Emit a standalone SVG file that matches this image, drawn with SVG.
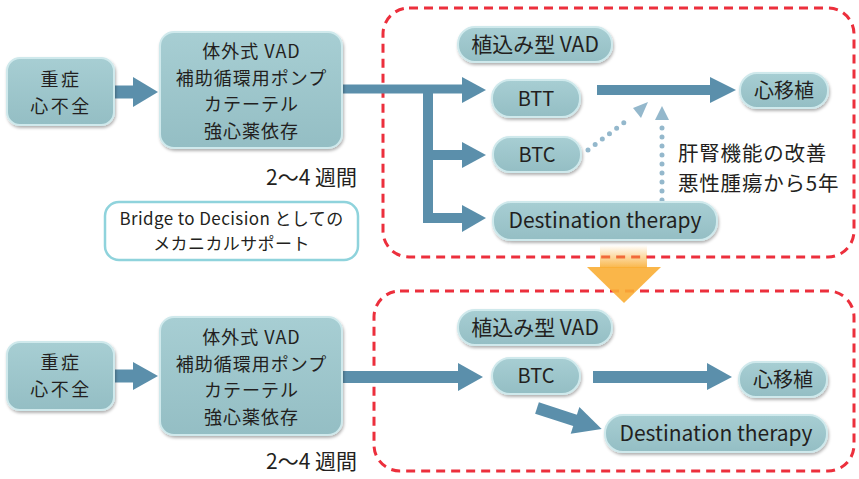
<svg xmlns="http://www.w3.org/2000/svg" width="859" height="479" viewBox="0 0 859 479">
<style>
text{font-family:"Noto Sans CJK JP","Noto Sans",sans-serif;fill:#231f20;}
.node rect{fill:url(#nf);stroke:#cfe9ec;stroke-width:2;filter:url(#sh);}
.t20{font-size:20px;text-anchor:middle;}
.m18{font-size:18px;letter-spacing:1px;text-anchor:middle;}
.sv{font-size:18px;letter-spacing:2.5px;text-anchor:middle;}
.shaft{stroke:#5b8fab;fill:none;}
.head{fill:#5b8fab;}
.dot{stroke:#94b8cc;stroke-width:5;stroke-linecap:round;stroke-dasharray:0 9;fill:none;}
.dothead{fill:#94b8cc;}
.zone{fill:none;stroke:#ec2f3c;stroke-width:3;stroke-dasharray:9 6;}
</style>
<defs>
<linearGradient id="nf" x1="0" y1="0" x2="0" y2="1">
<stop offset="0" stop-color="#a7ced3"/>
<stop offset="1" stop-color="#94bec4"/>
</linearGradient>
<linearGradient id="og" x1="0" y1="0" x2="0" y2="1">
<stop offset="0" stop-color="#f9ae35" stop-opacity="0"/>
<stop offset="1" stop-color="#f9ae35" stop-opacity="0.9"/>
</linearGradient>
<filter id="sh" x="-10%" y="-10%" width="130%" height="140%">
<feDropShadow dx="1" dy="2" stdDeviation="1.5" flood-color="#000" flood-opacity="0.3"/>
</filter>
</defs>
<rect width="859" height="479" fill="#fff"/>

<!-- zones -->
<rect class="zone" x="383" y="8" width="471" height="249" rx="26"/>
<rect class="zone" x="374" y="291" width="480" height="180" rx="26"/>

<!-- connectors -->
<g id="connectors">
<line class="shaft" x1="113" y1="92" x2="135" y2="92" stroke-width="13"/>
<polygon class="head" points="133,77 158,92 133,107"/>
<line class="shaft" x1="342" y1="89" x2="464" y2="89" stroke-width="9"/>
<polygon class="head" points="462,77 486,90 462,103"/>
<line class="shaft" x1="428" y1="85" x2="428" y2="223" stroke-width="10"/>
<line class="shaft" x1="428" y1="155" x2="464" y2="155" stroke-width="10"/>
<polygon class="head" points="462,142 486,155 462,168"/>
<line class="shaft" x1="423" y1="218" x2="464" y2="218" stroke-width="10"/>
<polygon class="head" points="462,205 486,218 462,232"/>
<line class="shaft" x1="597" y1="90" x2="712" y2="90" stroke-width="10"/>
<polygon class="head" points="710,77 736,90 710,103"/>
<line class="dot" x1="588" y1="150" x2="630" y2="118"/>
<polygon class="dothead" points="648,102 641,118 633,108"/>
<line class="dot" x1="662" y1="200" x2="662" y2="124"/>
<polygon class="dothead" points="662,106 655,120 669,120"/>
<line class="shaft" x1="113" y1="376" x2="135" y2="376" stroke-width="13"/>
<polygon class="head" points="133,362 158,376 133,390"/>
<line class="shaft" x1="342" y1="377" x2="460" y2="377" stroke-width="12"/>
<polygon class="head" points="458,363 483,377 458,391"/>
<line class="shaft" x1="593" y1="377" x2="709" y2="377" stroke-width="12"/>
<polygon class="head" points="707,363 732,377 707,390"/>
<g transform="translate(537,408) rotate(18)">
<line class="shaft" x1="0" y1="0" x2="44" y2="0" stroke-width="12"/>
<polygon class="head" points="40,-14 68,0 40,14"/>
</g>
</g>

<!-- orange transition arrow -->
<g id="transition">
<rect x="600" y="245" width="47" height="23" fill="url(#og)"/>
<polygon points="587,267 661,267 624,303" fill="#f9ae35" fill-opacity="0.9"/>
</g>

<!-- top nodes -->
<g id="n-severe-top" class="node">
<rect x="7" y="58" width="107" height="67" rx="13"/>
<text class="sv"><tspan x="61" y="86">重症</tspan><tspan x="61" y="112.5">心不全</tspan></text>
</g>
<g id="n-ext-top" class="node">
<rect x="160" y="32" width="182" height="116" rx="14"/>
<text class="m18"><tspan x="251.5" y="58">体外式 VAD</tspan><tspan x="251.5" y="84.5">補助循環用ポンプ</tspan><tspan x="251.5" y="111">カテーテル</tspan><tspan x="251.5" y="137.5">強心薬依存</tspan></text>
</g>
<g id="n-impl-top" class="node">
<rect x="458" y="27" width="154" height="35" rx="17"/>
<text class="t20" x="535" y="52" style="font-size:21px">植込み型 VAD</text>
</g>
<g id="n-btt" class="node">
<rect x="492" y="80" width="88" height="37" rx="18"/>
<text class="t20" x="536" y="106">BTT</text>
</g>
<g id="n-btc-top" class="node">
<rect x="493" y="137" width="88" height="35" rx="17"/>
<text class="t20" x="537" y="162">BTC</text>
</g>
<g id="n-dt-top" class="node">
<rect x="493" y="202" width="224" height="38" rx="18"/>
<text class="t20" x="605" y="228" style="font-size:21px">Destination therapy</text>
</g>
<g id="n-tx-top" class="node">
<rect x="740" y="73" width="88" height="35" rx="17"/>
<text class="t20" x="784" y="98">心移植</text>
</g>
<g id="label-top">
<text style="font-size:20.5px;letter-spacing:0.8px"><tspan x="678" y="161">肝腎機能の改善</tspan><tspan x="678" y="191">悪性腫瘍から5年</tspan></text>
<text x="357" y="185" style="font-size:21px;text-anchor:end">2〜4 週間</text>
</g>
<g id="n-bridge">
<rect x="105" y="202" width="253" height="58" rx="14" fill="#fff" stroke="#8fd3dc" stroke-width="2.5"/>
<text style="font-size:17px;letter-spacing:0.4px;text-anchor:middle"><tspan x="231.5" y="224.5">Bridge to Decision としての</tspan><tspan x="231.5" y="249.5">メカニカルサポート</tspan></text>
</g>

<!-- bottom nodes -->
<g id="n-severe-bot" class="node">
<rect x="7" y="342" width="107" height="68" rx="13"/>
<text class="sv"><tspan x="61" y="369">重症</tspan><tspan x="61" y="395.5">心不全</tspan></text>
</g>
<g id="n-ext-bot" class="node">
<rect x="160" y="317" width="182" height="118" rx="14"/>
<text class="m18"><tspan x="251.5" y="344">体外式 VAD</tspan><tspan x="251.5" y="370.5">補助循環用ポンプ</tspan><tspan x="251.5" y="397">カテーテル</tspan><tspan x="251.5" y="423.5">強心薬依存</tspan></text>
</g>
<g id="n-impl-bot" class="node">
<rect x="458" y="310" width="154" height="35" rx="17"/>
<text class="t20" x="535" y="335" style="font-size:21px">植込み型 VAD</text>
</g>
<g id="n-btc-bot" class="node">
<rect x="492" y="358" width="88" height="36" rx="18"/>
<text class="t20" x="536" y="383">BTC</text>
</g>
<g id="n-tx-bot" class="node">
<rect x="739" y="362" width="88" height="35" rx="17"/>
<text class="t20" x="783" y="387">心移植</text>
</g>
<g id="n-dt-bot" class="node">
<rect x="605" y="415" width="222" height="37" rx="18"/>
<text class="t20" x="716" y="441" style="font-size:21px">Destination therapy</text>
</g>
<g id="label-bot">
<text x="357" y="469" style="font-size:21px;text-anchor:end">2〜4 週間</text>
</g>
</svg>
